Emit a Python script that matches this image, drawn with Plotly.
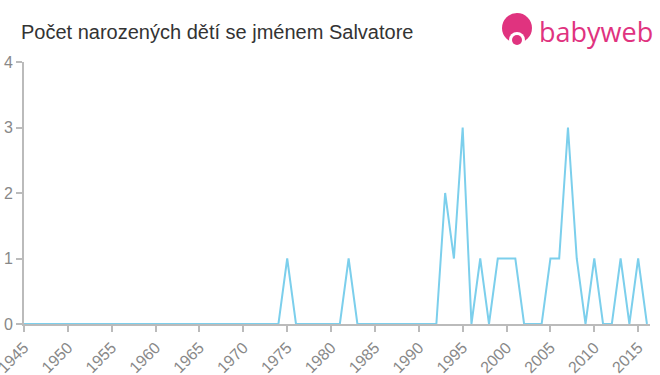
import plotly.graph_objects as go

years = list(range(1945, 2017))
counts_map = {1975: 1, 1982: 1, 1993: 2, 1994: 1, 1995: 3, 1997: 1, 1999: 1, 2000: 1, 2001: 1,
              2005: 1, 2006: 1, 2007: 3, 2008: 1, 2010: 1, 2013: 1, 2015: 1}
counts = [counts_map.get(y, 0) for y in years]

tick_years = list(range(1945, 2020, 5))
tick_labels = [str(y) for y in tick_years]
y_ticks = [0, 1, 2, 3, 4]

title_text = "Počet narozených dětí se jménem Salvatore"
logo_text = "babyweb"

L, R, T, B = 24, 10, 62, 51
W, H = 660, 375
pw, ph = W - L - R, H - T - B

def px(x):
    return (x - L) / pw

def py(y):
    return (H - B - y) / ph

fig = go.Figure()
fig.add_trace(go.Scatter(x=years, y=counts, mode="lines",
                         line=dict(color="#7ccfec", width=2), hoverinfo="x+y"))

pink = "#e0337f"
shapes = [
    dict(type="circle", xref="paper", yref="paper", x0=px(502), x1=px(532), y0=py(13), y1=py(43),
         fillcolor=pink, line=dict(width=0)),
    dict(type="circle", xref="paper", yref="paper", x0=px(509), x1=px(525), y0=py(32), y1=py(48),
         fillcolor="white", line=dict(width=0)),
    dict(type="circle", xref="paper", yref="paper", x0=px(512), x1=px(522), y0=py(35), y1=py(45),
         fillcolor=pink, line=dict(width=0)),
]

fig.update_layout(
    width=W, height=H,
    margin=dict(l=L, r=R, t=T, b=B),
    paper_bgcolor="white", plot_bgcolor="white",
    showlegend=False,
    font=dict(family="Liberation Sans, Arial, sans-serif"),
    shapes=shapes,
    annotations=[
        dict(text=title_text, xref="paper", yref="paper", x=px(19), y=py(32), xanchor="left",
             yanchor="middle", showarrow=False, font=dict(size=20, color="#333333")),
        dict(text=logo_text, xref="paper", yref="paper", x=px(537), y=py(32), xanchor="left",
             yanchor="middle", showarrow=False,
             font=dict(size=27, color=pink, family="Open Sans, sans-serif")),
    ],
    xaxis=dict(range=[1945, 2016.35], tickvals=tick_years, ticktext=tick_labels, tickangle=-45,
               showgrid=False, zeroline=False, showline=True, linecolor="#bbbbbb", linewidth=2,
               ticks="outside", ticklen=6, tickcolor="#bbbbbb", tickwidth=2,
               ticklabeloverflow="allow",
               tickfont=dict(size=16, color="#888888"), automargin=False, fixedrange=True),
    yaxis=dict(range=[0, 4], tickvals=y_ticks, showgrid=False, zeroline=False, showline=True,
               linecolor="#bbbbbb", linewidth=2, ticks="outside", ticklen=6, tickcolor="#bbbbbb",
               tickwidth=2, tickfont=dict(size=16, color="#888888"), automargin=False,
               fixedrange=True),
)

fig.write_html("out.html")
